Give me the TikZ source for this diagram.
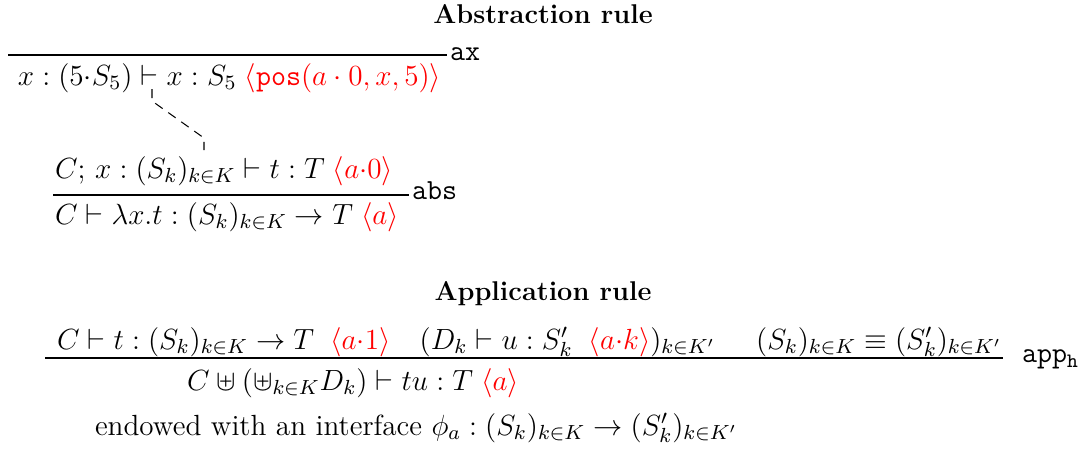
\RequirePackage{fix-cm}
\documentclass[tikz,border=0pt]{standalone}
\usepackage{amsmath}
\newcommand{\ann}[1]{\textcolor{red}{\langle #1\rangle}}
\begin{document}
\begin{tikzpicture}[x=0.4386pt,y=-0.4386pt,
  txt/.style={inner sep=0pt,outer sep=0pt,font=\fontsize{12.8}{15}\selectfont},
  title/.style={inner sep=0pt,outer sep=0pt,anchor=base,font=\fontsize{11.9}{14}\selectfont\bfseries},
  rulebar/.style={line width=0.45pt},
  dashline/.style={line width=0.45pt,dash pattern=on 4pt off 3pt},
  lab/.style={inner sep=0pt,outer sep=0pt,anchor=mid west,font=\fontsize{12.8}{15}\selectfont\ttfamily}]
\useasboundingbox (0,0) rectangle (1080,452);
% Abstraction rule
\node[title] (t1) at (543,23) {Abstraction rule};
\coordinate (axL) at (8,55);
\coordinate (axR) at (447,55);
\draw[rulebar] (axL) -- (axR);
\node[lab] (axlab) at (450,56) {ax};
\node[txt,anchor=base west] (axc) at (18,85) {$x : (5{\cdot}S_5) \vdash x : S_5\;\ann{\texttt{pos}(a\cdot 0, x, 5)}$};
\coordinate (d1) at (152,89);
\coordinate (d2) at (152,101);
\coordinate (d3) at (204,138);
\coordinate (d4) at (204,150);
\draw[dashline] (d1) -- (d2) -- (d3) -- (d4);
\node[txt,anchor=base west] (absp) at (55,178) {$C;\, x : (S_k)_{k\in K} \vdash t : T\;\ann{a{\cdot}0}$};
\coordinate (absL) at (53,195);
\coordinate (absR) at (409,195);
\draw[rulebar] (absL) -- (absR);
\node[lab] (abslab) at (412,195) {abs};
\node[txt,anchor=base west] (absc) at (55,224) {$C \vdash \lambda x.t : (S_k)_{k\in K} \to T\;\ann{a}$};
% Application rule
\node[title] (t2) at (543,300) {Application rule};
\node[txt,anchor=base west] (appp) at (57,349) {$C \vdash t : (S_k)_{k\in K} \to T\;\;\ann{a{\cdot}1}\quad (D_k \vdash u : S'_k\;\;\ann{a{\cdot}k})_{k\in K'}\hspace{18pt} (S_k)_{k\in K} \equiv (S'_k)_{k\in K'}$};
\coordinate (appL) at (45,358);
\coordinate (appR) at (1003,358);
\draw[rulebar] (appL) -- (appR);
\node[lab] (applab) at (1022,358) {app$_{\texttt{h}}$};
\node[txt,anchor=base west] (appc) at (187,390) {$C \uplus ({\uplus}_{k\in K} D_k) \vdash tu : T\;\ann{a}$};
\node[txt,anchor=base west] (endw) at (95,435) {endowed with an interface $\phi_a : (S_k)_{k\in K} \to (S'_k)_{k\in K'}$};
\end{tikzpicture}
\end{document}
